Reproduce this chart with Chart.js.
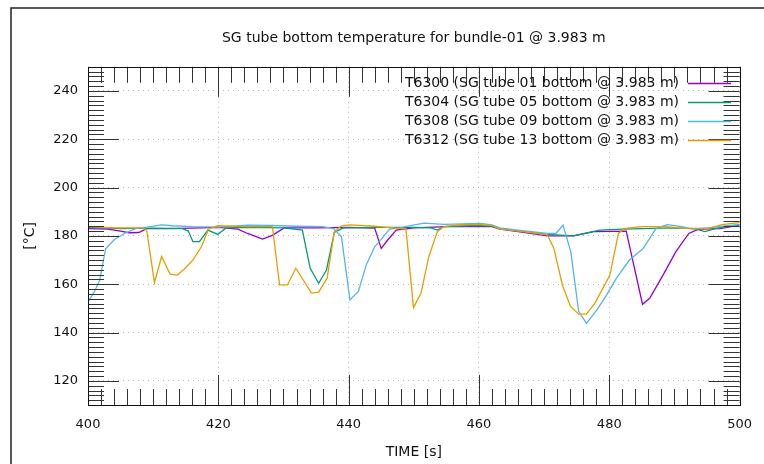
<!DOCTYPE html>
<html>
<head>
<meta charset="utf-8">
<title>SG tube bottom temperature</title>
<script src="https://cdn.jsdelivr.net/npm/chart.js@4.4.1/dist/chart.umd.min.js"></script>
<style>
  html, body { margin: 0; padding: 0; background: #fff; }
  #wrap { width: 764px; height: 464px; }
</style>
</head>
<body>
<div id="wrap"><canvas id="chart" width="764" height="464"></canvas></div>
<script>
// axis ticks (major labels)
var timeTicks = [400, 420, 440, 460, 480, 500];
var tempTicks = [120, 140, 160, 180, 200, 220, 240];

// series: time [s] and temperature [°C] at each vertex
var t6300Time = [400, 403, 405, 406.3, 407.8, 409, 412, 416, 420, 423, 424.5, 426.8, 428.3, 430.1, 435, 440, 444, 445, 446, 447.3, 450, 455, 460, 462, 463.2, 466, 470.5, 474.5, 477.6, 482.6, 485.1, 486.2, 488.4, 490.2, 492.2, 493.7, 497, 500];
var t6300Temp = [183.0, 182.8, 182.0, 181.3, 181.4, 183.0, 183.0, 183.2, 183.5, 182.8, 181.0, 178.7, 180.2, 183.3, 183.3, 183.5, 183.2, 174.8, 178.3, 182.4, 183.3, 183.8, 184.0, 183.8, 182.8, 181.8, 180.0, 180.0, 181.8, 182.0, 151.7, 154.2, 164.5, 173.4, 181.0, 182.8, 183.0, 184.5];

var t6304Time = [400, 405, 410, 414.5, 415.4, 416.1, 417.1, 418.4, 419.9, 421.2, 425, 430, 432.9, 434.1, 435.4, 436.6, 437.8, 439.2, 445, 450, 452.6, 453.6, 454.6, 460, 462, 463.2, 466, 470.5, 474.5, 478.5, 482, 490, 493, 494.7, 496.5, 500];
var t6304Temp = [183.5, 183.0, 183.2, 183.0, 182.0, 177.6, 177.6, 182.4, 180.6, 183.3, 183.5, 183.3, 182.4, 166.6, 160.4, 165.9, 181.4, 183.3, 183.5, 183.5, 183.3, 182.4, 183.8, 184.3, 184.0, 183.0, 182.0, 180.6, 180.0, 182.4, 182.8, 183.3, 183.0, 181.8, 183.2, 184.7];

var t6308Time = [400, 400.9, 401.8, 402.7, 404.1, 405.6, 407.3, 409, 411.3, 413, 416, 420, 424.5, 428, 432, 436, 437.7, 438.9, 440.2, 441.5, 442.7, 444, 445.3, 446.3, 447.8, 450.3, 451.6, 454.6, 460.2, 462, 463.2, 466, 470.5, 471.8, 472.9, 474.1, 475.3, 476.5, 478.1, 479.6, 481.1, 483.1, 485.2, 487.2, 488.9, 491.2, 492.7, 495, 497.3, 500];
var t6308Temp = [152.8, 156.5, 161.6, 174.7, 178.6, 181.0, 183.0, 183.6, 184.6, 184.2, 183.8, 183.6, 184.5, 184.3, 184.0, 183.8, 183.0, 179.6, 153.5, 157.0, 168.0, 175.5, 179.6, 182.8, 183.3, 184.7, 185.3, 184.8, 185.2, 184.6, 183.3, 182.4, 181.0, 181.0, 184.5, 173.4, 148.8, 143.8, 149.4, 155.6, 162.5, 170.0, 174.8, 183.1, 184.7, 183.8, 182.8, 183.3, 184.0, 184.7];

var t6312Time = [400, 404, 408.3, 409, 410.2, 411.3, 412.6, 413.7, 414.8, 416.1, 417.4, 418.5, 419.9, 424.5, 428.3, 429.4, 430.6, 431.9, 434.3, 435.4, 436.7, 437.8, 438.9, 440.2, 444, 448.8, 449.95, 451.1, 452.3, 453.6, 454.6, 457.1, 460.2, 461.9, 463.2, 466.2, 470.5, 471.5, 472.8, 474.05, 475.3, 476.5, 477.8, 480.1, 481.4, 482.4, 485.2, 488.7, 491.7, 495.3, 497.3, 500];
var t6312Temp = [183.8, 183.3, 183.3, 182.5, 160.7, 171.4, 164.2, 163.8, 166.3, 170.0, 175.5, 182.8, 184.2, 183.8, 183.8, 159.7, 159.7, 166.6, 156.3, 156.7, 162.5, 181.7, 184.2, 184.6, 184.0, 182.8, 150.3, 156.2, 171.4, 181.7, 183.8, 184.7, 184.7, 184.4, 182.8, 182.0, 180.4, 174.8, 159.7, 150.8, 147.6, 147.6, 152.2, 163.8, 181.0, 183.1, 183.8, 183.8, 183.1, 183.1, 184.7, 185.5];

var seriesLabels = [
    "T6300 (SG tube 01 bottom @ 3.983 m)",
    "T6304 (SG tube 05 bottom @ 3.983 m)",
    "T6308 (SG tube 09 bottom @ 3.983 m)",
    "T6312 (SG tube 13 bottom @ 3.983 m)"
];
var seriesColors = ["#9400d3", "#009e73", "#56b4e9", "#e69f00"];

var FONT = "'DejaVu Sans', sans-serif";

function toPoints(xs, ys) {
    return xs.map(function (x, i) { return { x: x, y: ys[i] }; });
}

/**
 * gnuplot-like decorations: window frame, plot border, inward mirrored ticks
 * and a key with the line sample to the right of the text.
 */
var gnuplotDecor = {
    id: "gnuplotDecor",
    beforeDraw: function (chart) {
        var ctx = chart.ctx;
        ctx.save();
        ctx.strokeStyle = "#222";
        ctx.lineWidth = 1.5;
        ctx.beginPath();
        ctx.moveTo(11, chart.height);
        ctx.lineTo(11, 8);
        ctx.lineTo(chart.width, 8);
        ctx.stroke();
        ctx.restore();
    },
    afterDatasetsDraw: function (chart) {
        var ctx = chart.ctx, a = chart.chartArea;
        var xs = chart.scales.x, ys = chart.scales.y;
        ctx.save();
        ctx.strokeStyle = "#333";
        ctx.lineWidth = 1;
        ctx.beginPath();
        var t, v, px, len;
        for (t = xs.min; t <= xs.max; t += 2) {
            px = Math.round(xs.getPixelForValue(t)) + 0.5;
            len = t % 20 === 0 ? 30 : 16;
            ctx.moveTo(px, a.bottom); ctx.lineTo(px, a.bottom - len);
            ctx.moveTo(px, a.top); ctx.lineTo(px, a.top + len);
        }
        for (v = ys.min; v <= ys.max; v += 2) {
            px = Math.round(ys.getPixelForValue(v)) + 0.5;
            len = v % 20 === 0 ? 31 : 16;
            ctx.moveTo(a.left, px); ctx.lineTo(a.left + len, px);
            ctx.moveTo(a.right, px); ctx.lineTo(a.right - len, px);
        }
        ctx.stroke();

        // plot border
        ctx.strokeStyle = "#111";
        ctx.strokeRect(Math.round(a.left) + 0.5, Math.round(a.top) + 0.5,
            Math.round(a.right - a.left), Math.round(a.bottom - a.top));

        // key, top right
        ctx.font = "14px " + FONT;
        ctx.textAlign = "right";
        ctx.textBaseline = "middle";
        chart.data.datasets.forEach(function (ds, i) {
            var y = 83.5 + i * 19;
            ctx.fillStyle = "#111";
            ctx.fillText(ds.label, 679, y);
            ctx.strokeStyle = ds.borderColor;
            ctx.lineWidth = 1.3;
            ctx.beginPath();
            ctx.moveTo(688, y);
            ctx.lineTo(731, y);
            ctx.stroke();
        });
        ctx.restore();
    }
};

var allTimes = [t6300Time, t6304Time, t6308Time, t6312Time];
var allTemps = [t6300Temp, t6304Temp, t6308Temp, t6312Temp];

var datasets = seriesLabels.map(function (label, i) {
    return {
        label: label,
        data: toPoints(allTimes[i], allTemps[i]),
        borderColor: seriesColors[i],
        backgroundColor: seriesColors[i],
        borderWidth: 1.3,
        pointRadius: 0,
        tension: 0,
        fill: false,
        order: seriesLabels.length - i
    };
});

new Chart(document.getElementById("chart"), {
    type: "line",
    data: { datasets: datasets },
    plugins: [gnuplotDecor],
    options: {
        responsive: false,
        animation: false,
        layout: { padding: { left: 0, right: 16, top: 0, bottom: 0 } },
        plugins: {
            legend: { display: false },
            tooltip: { enabled: false },
            title: {
                display: true,
                fullSize: false,
                text: "SG tube bottom temperature for bundle-01 @ 3.983 m",
                color: "#111",
                font: { family: FONT, size: 14, weight: "normal" },
                padding: { top: 30, bottom: 20 }
            }
        },
        scales: {
            x: {
                type: "linear",
                min: 400,
                max: 500,
                afterBuildTicks: function (s) { s.ticks = timeTicks.map(function (v) { return { value: v }; }); },
                afterFit: function (s) { s.height = 59; },
                grid: { color: "#b8b8b8", lineWidth: 1, drawTicks: false },
                border: { display: false, dash: [1, 4] },
                ticks: { color: "#111", padding: 12, maxRotation: 0, font: { family: FONT, size: 13 } },
                title: { display: true, text: "TIME [s]", color: "#111", font: { family: FONT, size: 14 }, padding: { top: 0, bottom: 3 } }
            },
            y: {
                type: "linear",
                min: 110,
                max: 250,
                afterBuildTicks: function (s) { s.ticks = tempTicks.map(function (v) { return { value: v }; }); },
                afterFit: function (s) { s.width = 88; },
                grid: { color: "#b8b8b8", lineWidth: 1, drawTicks: false },
                border: { display: false, dash: [1, 4] },
                ticks: { color: "#111", padding: 10, font: { family: FONT, size: 13 } },
                title: { display: true, text: "[°C]", color: "#111", font: { family: FONT, size: 14 }, padding: { top: 21.6, bottom: 0 } }
            }
        }
    }
});
</script>
</body>
</html>
